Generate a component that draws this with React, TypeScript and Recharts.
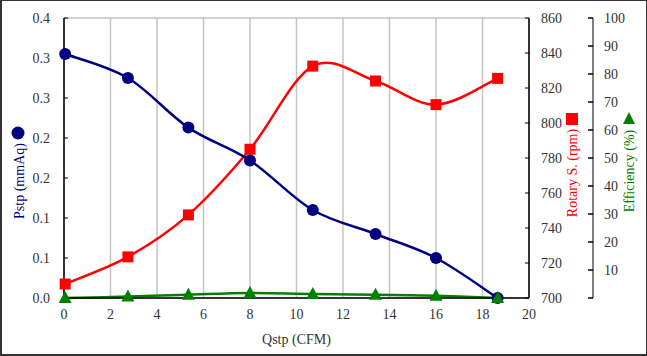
import { ComposedChart, Line, XAxis, YAxis, CartesianGrid } from "recharts";

const qstp = [0.05, 2.75, 5.35, 8.0, 10.7, 13.4, 16.0, 18.65];
const pstp = [0.305, 0.275, 0.213, 0.172, 0.11, 0.08, 0.05, 0.0];
const rotary = [708, 723.5, 747.5, 785, 832.5, 824, 810.5, 825.5];
const efficiency = [0, 0.5, 1.2, 1.8, 1.4, 1.2, 0.8, 0];

const xTicks = [0, 2, 4, 6, 8, 10, 12, 14, 16, 18, 20];
const pstpTicks = [0, 0.05, 0.1, 0.15, 0.2, 0.25, 0.3, 0.35];
const pstpTickLabels = ["0.0", "0.1", "0.1", "0.2", "0.2", "0.3", "0.3", "0.4"];
const rpmTicks = [700, 720, 740, 760, 780, 800, 820, 840, 860];
const effTicks = [0, 10, 20, 30, 40, 50, 60, 70, 80, 90, 100];

const data = qstp.map((q, i) => ({
  q,
  pstp: pstp[i],
  rpm: rotary[i],
  eff: efficiency[i],
}));

const FONT = "'Liberation Serif', 'Times New Roman', serif";

// Excel-style smoothing (Catmull-Rom via cubic beziers)
function smoothCurve(context: any) {
  let pts: number[][] = [];
  return {
    areaStart() {},
    areaEnd() {},
    lineStart() {
      pts = [];
    },
    point(x: number, y: number) {
      pts.push([+x, +y]);
    },
    lineEnd() {
      const n = pts.length;
      if (!n) return;
      context.moveTo(pts[0][0], pts[0][1]);
      for (let i = 0; i < n - 1; i++) {
        const p0 = pts[Math.max(i - 1, 0)];
        const p1 = pts[i];
        const p2 = pts[i + 1];
        const p3 = pts[Math.min(i + 2, n - 1)];
        context.bezierCurveTo(
          p1[0] + (p2[0] - p0[0]) / 6,
          p1[1] + (p2[1] - p0[1]) / 6,
          p2[0] - (p3[0] - p1[0]) / 6,
          p2[1] - (p3[1] - p1[1]) / 6,
          p2[0],
          p2[1]
        );
      }
    },
  };
}

const makeTick =
  (fmt: (v: number, i: number) => string, dy: string) => (p: any) =>
    (
      <text
        x={p.x}
        y={p.y}
        dy={dy}
        textAnchor={p.textAnchor}
        fontSize={14}
        fontFamily={FONT}
        fill="#333"
      >
        {fmt(p.payload.value, p.index)}
      </text>
    );

const circleDot = (p: any) => (
  <circle key={`c${p.index}`} cx={p.cx} cy={p.cy} r={6} fill="#000080" />
);
const squareDot = (p: any) => (
  <rect key={`s${p.index}`} x={p.cx - 5.5} y={p.cy - 5.5} width={11} height={11} fill="#ff0000" />
);
const triDot = (p: any) => (
  <polygon
    key={`t${p.index}`}
    points={`${p.cx},${p.cy - 7} ${p.cx - 6.5},${p.cy + 5} ${p.cx + 6.5},${p.cy + 5}`}
    fill="#008000"
  />
);

const rotText = (cx: number, cy: number, text: string, color: string) => (
  <text
    x={cx}
    y={cy}
    transform={`rotate(-90, ${cx}, ${cy})`}
    textAnchor="middle"
    dominantBaseline="central"
    fontSize={14}
    fontFamily={FONT}
    fill={color}
  >
    {text}
  </text>
);

const pstpLabel = ({ viewBox }: any) => (
  <g>
    <circle cx={viewBox.x + 16} cy={132} r={6.5} fill="#000080" />
    {rotText(viewBox.x + 17, 180, "Pstp (mmAq)", "#000080")}
  </g>
);
const rpmLabel = ({ viewBox }: any) => (
  <g>
    <rect x={viewBox.x + 37} y={112} width={12} height={12} fill="#ff0000" />
    {rotText(viewBox.x + 43, 172, "Rotary S. (rpm)", "#ff0000")}
  </g>
);
const effLabel = ({ viewBox }: any) => (
  <g>
    <polygon
      points={`${viewBox.x + 36},${111} ${viewBox.x + 30},${123} ${viewBox.x + 42},${123}`}
      fill="#008000"
    />
    {rotText(viewBox.x + 36, 170, "Efficiency (%)", "#008000")}
  </g>
);

export default function App() {
  return (
    <div
      style={{
        position: "absolute",
        left: 0,
        top: 0,
        width: 647,
        height: 356,
        background: "#fff",
        border: "1px solid #333",
        borderLeftWidth: 2,
        borderBottomWidth: 2,
        boxSizing: "border-box",
        fontFamily: FONT,
      }}
    >
      <ComposedChart
        width={644}
        height={353}
        data={data}
        margin={{ top: 17, right: 0, bottom: 4, left: 0 }}
        style={{ position: "absolute", left: 0, top: 0 }}
      >
        <CartesianGrid stroke="#c4c4c4" strokeWidth={1.5} />
        <XAxis
          dataKey="q"
          type="number"
          domain={[0, 20]}
          ticks={xTicks}
          height={52}
          tick={makeTick((v) => String(v), "0.8em")}
          tickSize={0}
          tickMargin={10}
          axisLine={{ stroke: "#000", strokeWidth: 1.5 }}
          label={{
            value: "Qstp (CFM)",
            position: "insideBottom",
            offset: 6,
            style: { fontSize: 14, fill: "#333", fontFamily: FONT },
          }}
        />
        <XAxis
          xAxisId="top"
          orientation="top"
          dataKey="q"
          type="number"
          domain={[0, 20]}
          height={0}
          tick={false}
          tickLine={false}
          axisLine={{ stroke: "#000", strokeWidth: 1.5 }}
        />
        <YAxis
          yAxisId="p"
          orientation="left"
          width={62}
          domain={[0, 0.35]}
          ticks={pstpTicks}
          tick={makeTick((_v, i) => pstpTickLabels[i], "0.35em")}
          tickSize={-4}
          tickMargin={18}
          axisLine={{ stroke: "#000", strokeWidth: 1.5 }}
          tickLine={{ stroke: "#000" }}
          label={{ content: pstpLabel }}
        />
        <YAxis
          yAxisId="r1"
          orientation="right"
          width={64}
          domain={[700, 860]}
          ticks={rpmTicks}
          tick={makeTick((v) => String(v), "0.35em")}
          tickSize={-4}
          tickMargin={16}
          axisLine={{ stroke: "#000", strokeWidth: 1.5 }}
          tickLine={{ stroke: "#000" }}
          label={{ content: rpmLabel }}
        />
        <YAxis
          yAxisId="r2"
          orientation="right"
          width={53}
          domain={[0, 100]}
          ticks={effTicks}
          tick={makeTick((v) => (v === 0 ? "" : String(v)), "0.35em")}
          tickSize={-5}
          tickMargin={16}
          axisLine={{ stroke: "#555", strokeWidth: 1.5 }}
          tickLine={{ stroke: "#000", strokeWidth: 1.5 }}
          label={{ content: effLabel }}
        />
        <Line
          yAxisId="r1"
          dataKey="rpm"
          type={smoothCurve as any}
          stroke="#ff0000"
          strokeWidth={2.5}
          dot={squareDot}
          activeDot={false}
          isAnimationActive={false}
        />
        <Line
          yAxisId="p"
          dataKey="pstp"
          type={smoothCurve as any}
          stroke="#000080"
          strokeWidth={2.5}
          dot={circleDot}
          activeDot={false}
          isAnimationActive={false}
        />
        <Line
          yAxisId="r2"
          dataKey="eff"
          type={smoothCurve as any}
          stroke="#008000"
          strokeWidth={2.5}
          dot={triDot}
          activeDot={false}
          isAnimationActive={false}
        />
      </ComposedChart>
    </div>
  );
}
